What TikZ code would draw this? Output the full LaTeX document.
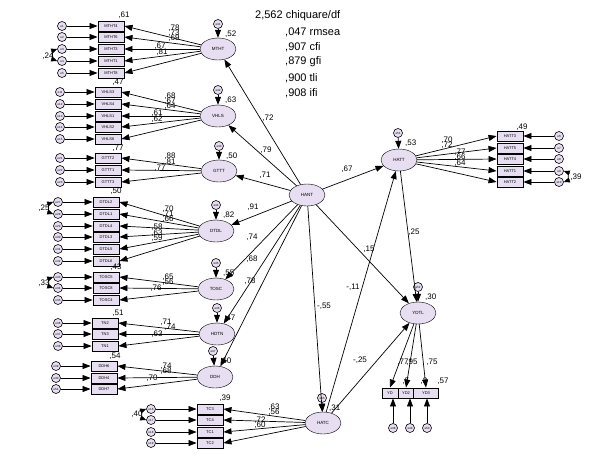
\documentclass[tikz,border=0pt]{standalone}
\usepackage{fontspec}
\setmainfont{Liberation Sans}
\usetikzlibrary{shapes.geometric,arrows.meta}
\definecolor{lav}{HTML}{E8DEF2}
\begin{document}
\begin{tikzpicture}[x=1pt,y=-1pt,
 lat/.style={ellipse,draw,fill=lav,minimum width=36pt,minimum height=22pt,inner sep=0,font=\fontsize{4.5}{5}\selectfont},
 ind/.style={rectangle,draw,line width=0.9pt,fill=lav,minimum width=26pt,minimum height=10pt,inner sep=0,font=\fontsize{4}{4}\selectfont},
 err/.style={circle,draw,line width=0.6pt,fill=lav,minimum size=9pt,inner sep=0,font=\fontsize{3}{3}\selectfont},
 arr/.style={-{Triangle[length=8pt,width=6pt]},line width=0.7pt},
 cov/.style={{Triangle[length=6pt,width=5pt]}-{Triangle[length=6pt,width=5pt]},line width=0.7pt},
 lb/.style={font=\fontsize{8}{8}\selectfont,inner sep=0},
 fit/.style={font=\fontsize{11}{11}\selectfont,inner sep=0,anchor=west}]
\useasboundingbox (0,0) rectangle (610,456);
% fit
\node[fit] (f1) at (255,16) {2,562 chiquare/df};
\node[fit] (f2) at (285,32) {,047 rmsea};
\node[fit] (f3) at (285,47) {,907 cfi};
\node[fit] (f4) at (285,62) {,879 gfi};
\node[fit] (f5) at (285,78) {,900 tli};
\node[fit] (f6) at (285,93) {,908 ifi};
% latents
\node[lat] (MTHT) at (218,49) {MTHT};
\node[lat] (VHLS) at (218,116) {VHLS};
\node[lat] (GTTT) at (219,171) {GTTT};
\node[lat] (DTDL) at (216,231) {DTDL};
\node[lat] (TOSC) at (216,289) {TOSC};
\node[lat] (HDTN) at (217,334) {HDTN};
\node[lat] (DDH) at (215,377) {DDH};
\node[lat] (HANT) at (307,195) {HANT};
\node[lat] (HATT) at (399,160) {HATT};
\node[lat] (YDTL) at (418,313) {YDTL};
\node[lat] (HATC) at (323,423) {HATC};
% disturbances
\foreach \e/\l/\x/\y/\r in {e41/MTHT/218/24/{,52}, e42/VHLS/218/90/{,63}, e43/GTTT/219/146/{,50}, e44/DTDL/216/205/{,82}, e45/TOSC/216/263/{,55}, e46/HDTN/217/308/{,47}, e47/DDH/213/351/{,60}, e51/HATT/398/133/{,53}, e52/YDTL/418/287/{,30}, e53/HATC/322/398/{,31}}{
 \node[err] (\e) at (\x,\y) {\e};
 \draw[arr] (\e)--(\l);
 \node[lb,anchor=west] (r\e) at (\x+7,\y+10) {\r};
}
% left groups
\foreach \n/\y/\e/\x/\ex/\lat in {
 MTHT4/26/e1/111/62/MTHT, MTHT6/37/e2/111/62/MTHT, MTHT3/49/e3/111/62/MTHT, MTHT1/61/e4/111/62/MTHT, MTHT8/73/e5/111/62/MTHT,
 VHLS3/92/e11/108/60/VHLS, VHLS4/104/e12/108/60/VHLS, VHLS1/116/e13/108/60/VHLS, VHLS2/127/e14/108/60/VHLS, VHLS6/139/e15/108/60/VHLS,
 GTTT2/158/e21/108/60/GTTT, GTTT1/170/e22/108/60/GTTT, GTTT3/182/e23/108/60/GTTT,
 DTDL2/202/e27/106/58/DTDL, DTDL1/214/e28/106/58/DTDL, DTDL4/226/e29/106/58/DTDL, DTDL3/237/e30/106/58/DTDL, DTDL5/249/e31/106/58/DTDL, DTDL6/261/e32/106/58/DTDL,
 TOSC5/277/e33/106/58/TOSC, TOSC8/288/e34/106/58/TOSC, TOSC4/300/e35/106/58/TOSC,
 TN2/323/e36/105/58/HDTN, TN3/334/e37/105/58/HDTN, TN1/346/e38/105/58/HDTN,
 DDH6/366/e39/104/56/DDH, DDH4/378/e40/104/56/DDH, DDH7/389/e54/104/56/DDH,
 TC3/409/e16/210/151/HATC, TC4/420/e17/210/151/HATC, TC1/432/e18/210/151/HATC, TC2/443/e19/210/151/HATC}{
 \node[ind] (\n) at (\x,\y) {\n};
 \node[err] (\e) at (\ex,\y) {\e};
 \draw[arr] (\e)--(\n);
 \draw[arr] (\lat)--(\n.east);
}
% HATT group
\foreach \n/\y/\e in {HATT3/136/e6, HATT5/148/e7, HATT4/159/e8, HATT1/171/e9, HATT2/182/e10}{
 \node[ind] (\n) at (510,\y) {\n};
 \node[err] (\e) at (559,\y) {\e};
 \draw[arr] (\e)--(\n);
 \draw[arr] (HATT)--(\n.west);
}
% YDTL group
\node[ind,minimum width=16pt] (YD) at (390,393) {YD};
\node[ind,minimum width=16pt] (YD2) at (406,393) {YD2};
\node[ind,minimum width=25pt] (YD3) at (426,393) {YD3};
\foreach \n/\e/\x in {YD/e48/393, YD2/e49/410, YD3/e50/427}{
 \node[err] (\e) at (\x,428) {\e};
 \draw[arr] (\e)--(\e|-\n.south);
}
\draw[arr] (YDTL)--(YD.north);
\draw[arr] (YDTL)--(YD2.north);
\draw[arr] (YDTL)--(YD3.north);
% covariances
\draw[cov] (e3.west) to[bend right=70] (e4.west);
\draw[cov] (e27.west) to[bend right=70] (e28.west);
\draw[cov] (e33.west) to[bend right=70] (e34.west);
\draw[cov] (e16.west) to[bend right=70] (e17.west);
\draw[cov] (e9.east) to[bend left=70] (e10.east);
\node[lb] (c1) at (48,56) {,24};
\node[lb] (c2) at (44,208) {,25};
\node[lb] (c3) at (44,283) {,33};
\node[lb] (c4) at (137,414) {,40};
\node[lb] (c5) at (576,177) {,39};
% structural
\draw[arr] (HANT)--(MTHT);
\draw[arr] (HANT)--(VHLS);
\draw[arr] (HANT)--(GTTT);
\draw[arr] (HANT)--(DTDL);
\draw[arr] (HANT)--(TOSC);
\draw[arr] (HANT)--(HDTN);
\draw[arr] (HANT)--(DDH);
\draw[arr] (HANT)--(HATT);
\draw[arr] (HANT)--(YDTL);
\draw[arr] (HANT)--(HATC);
\draw[arr] (HATC)--(HATT);
\draw[arr] (HATT)--(YDTL);
\draw[arr] (HATC)--(YDTL);
% structural labels
\foreach \t/\x/\y in {{,72}/268/118, {,79}/266/150, {,71}/265/175, {,91}/253/207, {,74}/252/237, {,68}/252/259, {,78}/250/281, {,67}/347/169, {,15}/369/249, {-,55}/324/306, {-,11}/353/287, {,25}/414/232, {-,25}/360/360}{
 \node[lb] at (\x,\y) {\t};
}
% loadings
\foreach \t/\x/\y in {
 {,78}/174/28, {,73}/174/33, {,69}/174/38, {,67}/160/46, {,81}/162/52,
 {,68}/170/96, {,67}/170/101, {,64}/170/106, {,61}/157/113, {,62}/157/119,
 {,88}/170/156, {,81}/170/162, {,77}/160/168,
 {,70}/168/209, {,71}/168/214, {,66}/168/219, {,58}/157/227, {,63}/157/233, {,59}/157/238,
 {,65}/168/277, {,56}/168/282, {,76}/156/288,
 {,71}/166/322, {,74}/170/327, {,63}/157/334,
 {,74}/166/366, {,68}/166/371, {,70}/152/378,
 {,63}/274/407, {,56}/274/412, {,72}/260/420, {,60}/260/425,
 {,70}/447/140, {,72}/447/145, {,77}/460/152, {,66}/460/157, {,64}/460/163,
 {,77}/403/362, {,95}/412/362, {,75}/432/362}{
 \node[lb] at (\x,\y) {\t};
}
% R2 of indicators
\foreach \t/\x/\y in {{,61}/124/15, {,47}/118/82, {,77}/118/148, {,50}/116/191, {,43}/116/267, {,51}/118/313, {,54}/115/356, {,39}/225/398, {,49}/522/127, {,57}/443/381, {,5}/406/381, {,8}/424/381}{
 \node[lb] at (\x,\y) {\t};
}
\end{tikzpicture}
\end{document}
